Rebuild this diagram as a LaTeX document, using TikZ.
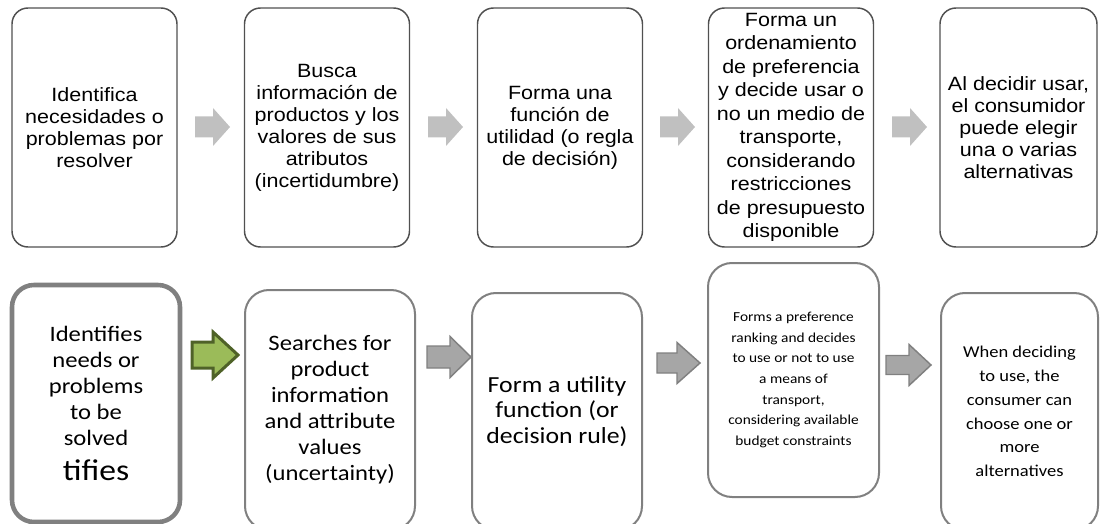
\documentclass[tikz,border=0pt]{standalone}
\usepackage{fontspec}
\newfontfamily\letraarial[FakeStretch=1.12]{Liberation Sans}
\newfontfamily\letracalibri[FakeStretch=1.12]{Carlito}
\usetikzlibrary{positioning}

\definecolor{bordesup}{HTML}{505050}
\definecolor{bordeinf}{HTML}{808080}
\definecolor{flechagris}{HTML}{C0C0C0}
\definecolor{flechamedia}{HTML}{A6A6A6}
\definecolor{verdeclaro}{HTML}{9BBB59}
\definecolor{verdeosc}{HTML}{4F6228}

% block arrow: [style]{x start}{x head}{x tip}{y centre}{shaft half}{head half}
\newcommand{\flecha}[7][]{%
  \draw[#1] (#2,#5-#6) -- (#3,#5-#6) -- (#3,#5-#7) -- (#4,#5)
    -- (#3,#5+#7) -- (#3,#5+#6) -- (#2,#5+#6) -- cycle;}

\begin{document}
\begin{tikzpicture}[
    x=0.75pt, y=-0.75pt,
    caja/.style={draw=bordesup, line width=1.1pt, rounded corners=12pt, align=center,
                inner sep=2pt, minimum width=123.75pt, minimum height=179.25pt,
                font=\letraarial\fontsize{14.4pt}{16.5pt}\selectfont},
    cajab/.style={draw=bordeinf, line width=1.5pt, rounded corners=18pt, align=center,
                inner sep=2pt, font=\letracalibri\fontsize{16.5pt}{19.5pt}\selectfont},
    flechasup/.style={fill=flechagris, draw=none},
    flechainf/.style={fill=flechamedia, draw=bordeinf, line width=1.1pt, line join=miter},
    flechaverde/.style={fill=verdeclaro, draw=verdeosc, line width=2.25pt, line join=miter},
  ]
  \useasboundingbox (0,0) rectangle (1100,524);
  \clip (0,0) rectangle (1100,524);

  % --- Spanish row (top) ---
  \node[caja] (idn) at (94.5,127.5) {Identifica\\necesidades o\\problemas por\\resolver};
  \node[caja] (bus) at (327,127.5) {Busca\\información de\\productos y los\\valores de sus\\atributos\\(incertidumbre)};
  \node[caja] (fun) at (560,127.5) {Forma una\\función de\\utilidad (o regla\\de decisión)};
  \node[caja, font=\letraarial\fontsize{14.4pt}{17.6pt}\selectfont] (ord) at (791,127.5)
    {Forma un\\ordenamiento\\de preferencia\\y decide usar o\\no un medio de\\transporte,\\considerando\\restricciones\\de presupuesto\\disponible};
  \node[caja, minimum width=117.75pt] (ele) at (1018.5,127.5) {Al decidir usar,\\el consumidor\\puede elegir\\una o varias\\alternativas};

  \flecha[flechasup]{195}{213}{230}{127}{10.5}{19}
  \flecha[flechasup]{428}{446}{463}{127}{10.5}{19}
  \flecha[flechasup]{660}{678}{695}{127}{10.5}{19}
  \flecha[flechasup]{892}{910}{927}{127}{10.5}{19}

  % --- English row (bottom) ---
  \node[cajab, line width=3.4pt, rounded corners=16.5pt, minimum width=126pt, minimum height=177.75pt]
    (ide) at (96,403.5) {Identifies\\needs or\\problems\\to be\\solved\\[7pt]{\fontsize{22.5pt}{27pt}\selectfont tifies}};
  \node[cajab, minimum width=127.5pt, minimum height=180pt] (sea) at (330,410)
    {Searches for\\product\\information\\and attribute\\values\\(uncertainty)};
  \node[cajab, minimum width=127.5pt, minimum height=177.75pt,
        font=\letracalibri\fontsize{17.25pt}{19pt}\selectfont] (frm) at (557,411.5)
    {Form a utility\\function (or\\decision rule)};
  \node[cajab, minimum width=128.25pt, minimum height=175.5pt,
        font=\letracalibri\fontsize{10.3pt}{15.4pt}\selectfont] (ran) at (793.5,380)
    {Forms a preference\\ranking and decides\\to use or not to use\\a means of\\transport,\\considering available\\budget constraints};
  \node[cajab, minimum width=117.75pt, minimum height=177.75pt,
        font=\letracalibri\fontsize{12.4pt}{17.9pt}\selectfont] (whe) at (1019.5,411.5)
    {When deciding\\to use, the\\consumer can\\choose one or\\more\\alternatives};

  \flecha[flechaverde]{192}{213}{238}{355}{13}{23}
  \flecha[flechainf]{427}{450}{471}{357}{11}{20.5}
  \flecha[flechainf]{657}{677}{700}{363}{10}{20.5}
  \flecha[flechainf]{886}{909}{931}{365}{9.5}{20.5}
\end{tikzpicture}
\end{document}
